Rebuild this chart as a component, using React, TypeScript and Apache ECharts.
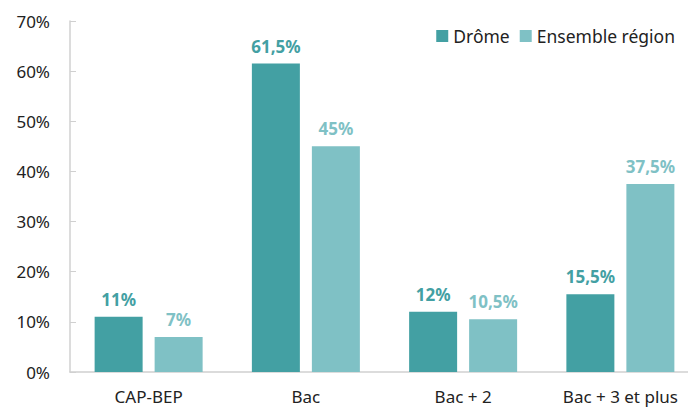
import React, { useEffect, useRef } from "react";
import * as echarts from "echarts";

const categories = ["CAP-BEP", "Bac", "Bac + 2", "Bac + 3 et plus"];
const drome = [11, 61.5, 12, 15.5];
const region = [7, 45, 10.5, 37.5];
const seriesNames = ["Drôme", "Ensemble région"];
const colors = ["#43A0A3", "#7FC1C5"];

const fmt = (v: number) => String(v).replace(".", ",") + "%";

export default function App() {
  const ref = useRef<HTMLDivElement>(null);
  useEffect(() => {
    const chart = echarts.init(ref.current!, null, { renderer: "svg" });
    const font = "Noto Sans";
    const mk = (name: string, data: number[], color: string) => ({
      name,
      type: "bar",
      data,
      barWidth: 48,
      barGap: "25%",
      itemStyle: { color },
      label: {
        show: true,
        position: "top",
        distance: 9,
        formatter: (p: any) => fmt(p.value),
        color,
        fontWeight: "bold",
        fontSize: 17,
        fontFamily: font,
      },
    });
    chart.setOption({
      animation: false,
      textStyle: { fontFamily: font },
      legend: {
        right: 8,
        top: 22,
        itemWidth: 12,
        itemHeight: 12,
        itemGap: 10,
        icon: "rect",
        textStyle: { fontSize: 17.5, color: "#222", fontFamily: font },
        data: seriesNames,
      },
      grid: { left: 70, top: 21, bottom: 37, width: 629, containLabel: false, outerBoundsMode: "none" },
      xAxis: {
        type: "category",
        data: categories,
        axisLine: { lineStyle: { color: "#d0d0d0", width: 1.5 } },
        axisTick: { show: false },
        axisLabel: { fontSize: 17, color: "#222", margin: 16, fontFamily: font },
      },
      yAxis: {
        type: "value",
        min: 0,
        max: 70,
        interval: 10,
        axisLine: { show: true, lineStyle: { color: "#d0d0d0", width: 1.5 } },
        axisTick: { show: true, inside: true, length: 6, lineStyle: { color: "#d0d0d0" } },
        splitLine: { show: false },
        axisLabel: { formatter: "{value}%", fontSize: 17, color: "#222", margin: 20, fontFamily: font },
      },
      series: [mk(seriesNames[0], drome, colors[0]), mk(seriesNames[1], region, colors[1])],
    });
    return () => chart.dispose();
  }, []);
  return <div ref={ref} style={{ width: 688, height: 409, position: "absolute", left: 0, top: 0 }} />;
}
